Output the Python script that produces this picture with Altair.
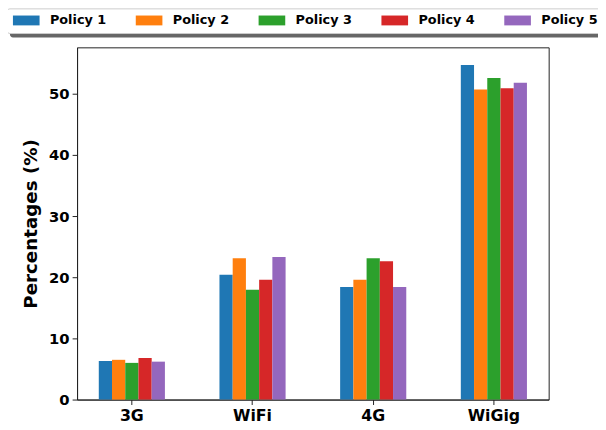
import altair as alt
import pandas as pd

networks = ["3G", "WiFi", "4G", "WiGig"]
policies = ["Policy 1", "Policy 2", "Policy 3", "Policy 4", "Policy 5"]
policy1 = [6.3, 20.4, 18.4, 54.7]
policy2 = [6.5, 23.1, 19.6, 50.7]
policy3 = [6.0, 17.95, 23.1, 52.6]
policy4 = [6.8, 19.6, 22.6, 50.9]
policy5 = [6.2, 23.3, 18.4, 51.8]
colors = ["#1f77b4", "#ff7f0e", "#2ca02c", "#d62728", "#9467bd"]
y_ticks = [0, 10, 20, 30, 40, 50]

series = [policy1, policy2, policy3, policy4, policy5]
rows = []
for pol, vals in zip(policies, series):
    for net, v in zip(networks, vals):
        rows.append({"Network": net, "Policy": pol, "Value": v})
df = pd.DataFrame(rows)

font = "DejaVu Sans"
one = pd.DataFrame({"a": [0]})

shadow = alt.Chart(one).mark_rect(color="#666", cornerRadius=3).encode(
    x=alt.value(-68), x2=alt.value(560), y=alt.value(-36), y2=alt.value(-10)
)
frame = alt.Chart(one).mark_rect(fill="white", stroke="#cccccc", strokeWidth=1,
                                 cornerRadius=3).encode(
    x=alt.value(-71), x2=alt.value(560), y=alt.value(-39), y2=alt.value(-14)
)

bars = alt.Chart(df).mark_bar().encode(
    x=alt.X("Network:N", sort=networks,
            scale=alt.Scale(paddingInner=0.452, paddingOuter=0.18),
            axis=alt.Axis(title=None, labelAngle=0, labelFontSize=16, labelPadding=3,
                          tickSize=5)),
    xOffset=alt.XOffset("Policy:N", sort=policies, scale=alt.Scale(paddingInner=0, paddingOuter=0)),
    y=alt.Y("Value:Q", scale=alt.Scale(domain=[0, 57.6], nice=False),
            axis=alt.Axis(values=y_ticks, title="Percentages (%)", labelFontSize=15,
                          tickSize=5, labelPadding=3, titleFontSize=18.5, titlePadding=8,
                          grid=False)),
    color=alt.Color("Policy:N", sort=policies,
                    scale=alt.Scale(domain=policies, range=colors),
                    legend=alt.Legend(orient="none", legendX=-71, legendY=-47,
                                      direction="horizontal", columns=5, title=None,
                                      symbolType="M-1,-0.37H1V0.37H-1Z", symbolSize=729,
                                      symbolStrokeWidth=0, labelFontSize=13,
                                      labelFont=font, labelFontWeight="bold",
                                      labelColor="black",
                                      labelOffset=10.5, columnPadding=29.5, padding=6)),
)

chart = alt.layer(shadow, frame, bars).properties(
    width=478, height=357,
    autosize=alt.AutoSizeParams(type="none"),
    padding={"left": 70, "top": 37, "right": 50, "bottom": 30},
).configure_view(stroke="#222", strokeWidth=1).configure_axis(
    labelFont=font, labelFontWeight="bold", titleFont=font, titleFontWeight="bold",
    labelColor="black", titleColor="black", domainColor="#222", tickColor="#222",
    grid=False,
)

chart.save("out.html", embed_options={"renderer": "svg", "actions": False})
